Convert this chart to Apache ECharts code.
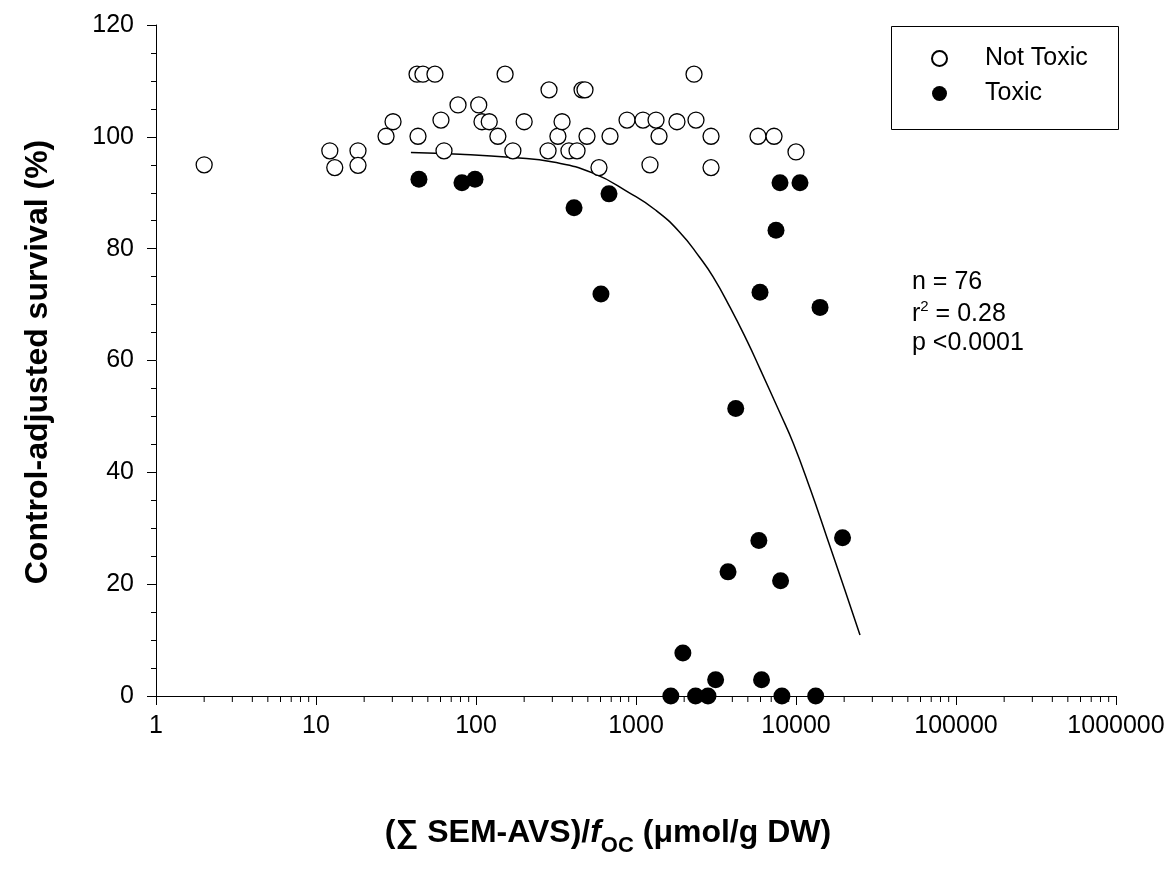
<!DOCTYPE html>
<html>
<head>
<meta charset="utf-8">
<script src="https://cdn.jsdelivr.net/npm/echarts@6/dist/echarts.min.js"></script>
<style>
html,body{margin:0;padding:0;background:#fff;}
#chart{width:1170px;height:880px;}
</style>
</head>
<body>
<div id="chart"></div>
<script>
// ---- data ----
const notToxicX = [2.0,12.2,13.1,18.3,18.3,27.4,30.3,42.8,43.4,46.6,55.4,60.4,63.1,77.2,104,109,121,137,152,170,200,282,286,325,345,381,428,460,480,494,587,688,879,1106,1223,1334,1393,1803,2305,2371,2944,2944,5788,7290,10000];
const notToxicY = [95.0,97.5,94.5,97.5,94.9,100.1,102.7,111.2,100.1,111.2,111.2,103.0,97.5,105.7,105.7,102.7,102.7,100.1,111.2,97.5,102.7,97.5,108.4,100.1,102.7,97.5,97.5,108.4,108.4,100.1,94.5,100.1,103.0,103.0,95.0,103.0,100.1,102.7,111.2,103.0,100.1,94.5,100.1,100.1,97.3];
const toxicX = [44.0,81.7,98.6,410,678,7943,10590,7499,604,5957,14130,4202,5860,19540,3760,8010,1963,3145,6090,1651,2357,2818,8166,13280];
const toxicY = [92.4,91.8,92.4,87.3,89.8,91.8,91.8,83.3,71.9,72.2,69.5,51.4,27.8,28.3,22.2,20.6,7.7,2.9,2.9,0,0,0,0,0];
// fitted curve, points
const curveX = [39.2,79.4,170,303,539,920,1311,1870,2492,3027,3874,4943,5957,7943,9617,12280,15550,20180,25120];
const curveY = [97.2,96.9,96.3,95.5,93.5,89.9,87.0,83.0,78.5,75.0,69.5,63.5,58.5,50.6,45.2,37.0,28.5,19.0,10.9];
// axis ticks
const xTickValues = [1,10,100,1000,10000,100000,1000000];
const yTickLabels = [0,20,40,60,80,100,120];
const seriesNames = ['Not Toxic','Toxic'];
const statsLines = ['n = 76','r2 = 0.28','p <0.0001'];

const zip = (a,b) => a.map((v,i)=>[v,b[i]]);
const minorTicks = [];
for (let d = 0; d < xTickValues.length - 1; d++) {
  for (let m = 2; m <= 9; m++) minorTicks.push(m * xTickValues[d]);
}

const chart = echarts.init(document.getElementById('chart'), null, {renderer:'canvas'});
const FONT = 'Liberation Sans, Arial, sans-serif';

const option = {
  animation: false,
  backgroundColor: '#fff',
  grid: {left:156, right:54, top:25, bottom:184, containLabel:false},
  xAxis: {
    type: 'log', logBase: 10, min: 1, max: 1000000,
    axisLine: {show:true, lineStyle:{color:'#000', width:1}},
    axisTick: {show:true, length:9, lineStyle:{color:'#000', width:1}},
    minorTick: {show:false},
    splitLine: {show:false},
    axisLabel: {color:'#000', fontSize:25, fontFamily:FONT, margin:18,
      formatter: v => String(Math.round(v))}
  },
  yAxis: {
    type: 'value', min: 0, max: 120, interval: 20,
    axisLine: {show:true, lineStyle:{color:'#000', width:1}},
    axisTick: {show:true, length:9, lineStyle:{color:'#000', width:1}},
    minorTick: {show:true, splitNumber:4, length:5, lineStyle:{color:'#000', width:1}},
    splitLine: {show:false},
    axisLabel: {color:'#000', fontSize:25, fontFamily:FONT, margin:22}
  },
  legend: {
    orient: 'vertical',
    left: 926, top: 41,
    itemWidth: 15, itemHeight: 15, itemGap: 10,
    icon: 'circle',
    selectedMode: false,
    data: seriesNames,
    textStyle: {color:'#000', fontSize:25, fontFamily:FONT, padding:[0,0,0,33]}
  },
  series: [
    {
      name: 'curve', type: 'line', data: zip(curveX, curveY),
      showSymbol: false, smooth: true, lineStyle:{color:'#000', width:1.5},
      silent: true, z: 1
    },
    {
      name: seriesNames[0], type: 'scatter', data: zip(notToxicX, notToxicY),
      symbol: 'circle', symbolSize: 16,
      itemStyle: {color:'#fff', borderColor:'#000', borderWidth:1.3, opacity:1},
      z: 2
    },
    {
      name: seriesNames[1], type: 'scatter', data: zip(toxicX, toxicY),
      symbol: 'circle', symbolSize: 17,
      itemStyle: {color:'#000', borderColor:'#000', borderWidth:0, opacity:1},
      z: 3
    },
    {
      name: 'minorTicks', type: 'custom', data: minorTicks.map(v=>[v,0]),
      clip: false, silent: true, z: 4,
      renderItem: function(params, api) {
        const p = api.coord([api.value(0), 0]);
        return {type:'line', shape:{x1:p[0], y1:p[1], x2:p[0], y2:p[1]+6},
                style:{stroke:'#000', lineWidth:1}};
      }
    }
  ],
  graphic: [
    {type:'rect', left:889, top:24, shape:{width:227, height:103},
     style:{fill:'none', stroke:'#000', lineWidth:1}, silent:true, z:10},
    {type:'text', x:912, y:282,
     style:{text:statsLines[0], font:'25px '+FONT, fill:'#000', verticalAlign:'middle'}},
    {type:'text', x:912, y:313,
     style:{text:'{a|r}{s|2}{a| = 0.28}', fill:'#000', verticalAlign:'middle',
       rich:{a:{fontSize:25, fontFamily:FONT, lineHeight:28, verticalAlign:'bottom'},
             s:{fontSize:15, fontFamily:FONT, lineHeight:28, verticalAlign:'top'}}}},
    {type:'text', x:912, y:343,
     style:{text:statsLines[2], font:'25px '+FONT, fill:'#000', verticalAlign:'middle'}},
    {type:'text', x:38, y:362, rotation:Math.PI/2,
     style:{text:'Control-adjusted survival (%)', font:'bold 32px '+FONT, fill:'#000',
       align:'center', verticalAlign:'middle'}},
    {type:'text', x:608, y:833,
     style:{text:'{b|(\u2211 SEM-AVS)/}{i|f}{sub|OC}{b| (\u03bcmol/g DW)}', fill:'#000',
       align:'center', verticalAlign:'middle',
       rich:{
         b:{fontSize:32, fontWeight:'bold', fontFamily:FONT, lineHeight:40},
         i:{fontSize:32, fontWeight:'bold', fontStyle:'italic', fontFamily:FONT, lineHeight:40},
         sub:{fontSize:22, fontWeight:'bold', fontFamily:FONT, lineHeight:22, verticalAlign:'top', padding:[22,0,0,0]}
       }}}
  ]
};
chart.setOption(option);
</script>
</body>
</html>
